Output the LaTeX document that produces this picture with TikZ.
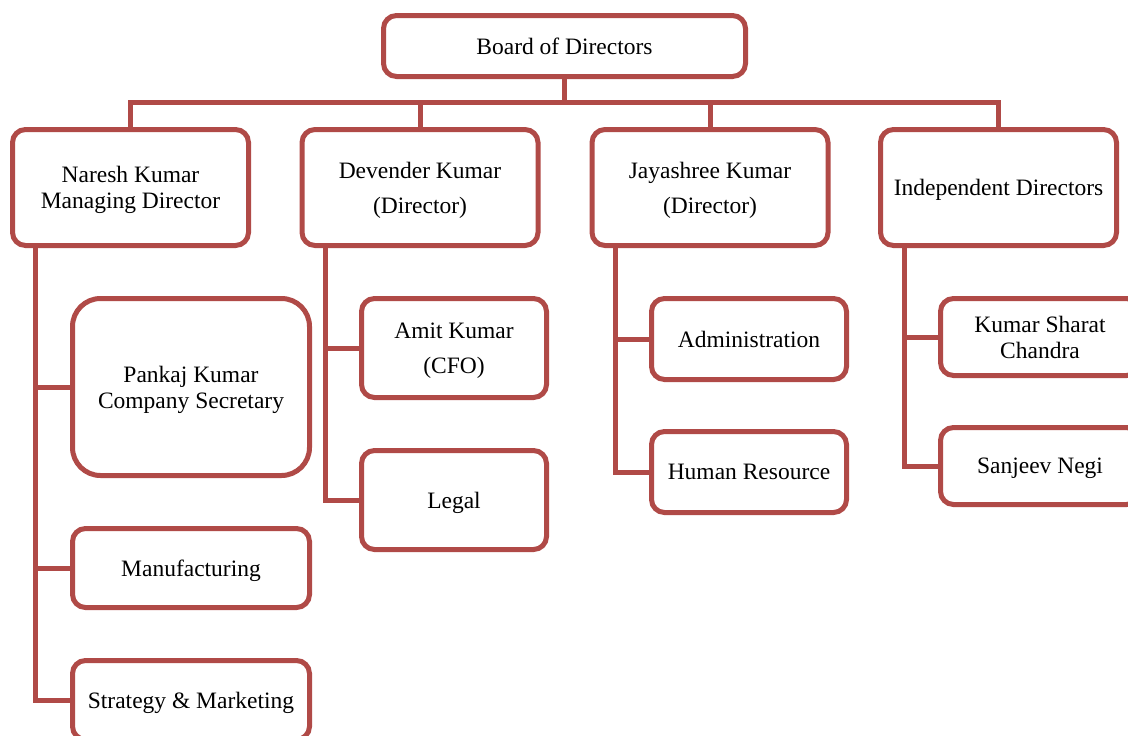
\documentclass[tikz,border=0pt]{standalone}
\usepackage{fontspec}
\setmainfont{Liberation Serif}
\definecolor{linered}{HTML}{B04A47}
\begin{document}
\begin{tikzpicture}[x=1pt,y=-1pt,
  box/.style={draw=linered,line width=5pt,rounded corners=13pt,fill=white,
    inner sep=0pt,align=center,text=black,text depth=0pt,
    font=\fontsize{23.5}{26}\selectfont},
  conn/.style={draw=linered,line width=5pt,line join=miter}]
\useasboundingbox (0,0) rectangle (1128,736);
\clip (0,0) rectangle (1128,736);
\coordinate (busy) at (0,102);
\coordinate (nv) at (35,247);
\coordinate (dv) at (325,247);
\coordinate (jv) at (615,247);
\coordinate (iv) at (904,247);
\node[box,minimum width=362pt,minimum height=61pt] (board) at (564.5,46) {Board of Directors};
\node[box,minimum width=236pt,minimum height=116pt] (naresh) at (130.5,187.5) {Naresh Kumar\\Managing Director};
\node[box,minimum width=236pt,minimum height=116pt] (dev) at (420,187.5) {Devender Kumar\\[9pt](Director)};
\node[box,minimum width=236pt,minimum height=116pt] (jay) at (710,187.5) {Jayashree Kumar\\[9pt](Director)};
\node[box,minimum width=236pt,minimum height=116pt] (indep) at (998.5,187.5) {Independent Directors};
\node[box,rounded corners=28pt,minimum width=237pt,minimum height=177pt] (pankaj) at (191,387) {Pankaj Kumar\\Company Secretary};
\node[box,minimum width=237pt,minimum height=79pt] (manu) at (191,568) {Manufacturing};
\node[box,minimum width=237pt,minimum height=79pt] (strat) at (191,700) {Strategy \& Marketing};
\node[box,minimum width=185pt,minimum height=99pt] (amit) at (454,348) {Amit Kumar\\[9pt](CFO)};
\node[box,minimum width=185pt,minimum height=99pt] (legal) at (454,500) {Legal};
\node[box,minimum width=195pt,minimum height=81pt] (admin) at (749,339) {Administration};
\node[box,minimum width=195pt,minimum height=81pt] (hr) at (749,472) {Human Resource};
\node[box,minimum width=199pt,minimum height=77pt] (kumar) at (1040,337) {Kumar Sharat\\Chandra};
\node[box,minimum width=199pt,minimum height=77pt] (sanjeev) at (1040,466) {Sanjeev Negi};
% top bus
\draw[conn] (board.south) -- (board.south |- busy);
\draw[conn] (naresh.north) -- (naresh.north |- busy) -- (indep.north |- busy) -- (indep.north);
\draw[conn] (dev.north) -- (dev.north |- busy);
\draw[conn] (jay.north) -- (jay.north |- busy);
% Naresh branch
\draw[conn] (nv) |- (strat.west);
\draw[conn] (nv |- pankaj.west) -- (pankaj.west);
\draw[conn] (nv |- manu.west) -- (manu.west);
% Devender branch
\draw[conn] (dv) |- (legal.west);
\draw[conn] (dv |- amit.west) -- (amit.west);
% Jayashree branch
\draw[conn] (jv) |- (hr.west);
\draw[conn] (jv |- admin.west) -- (admin.west);
% Independent branch
\draw[conn] (iv) |- (sanjeev.west);
\draw[conn] (iv |- kumar.west) -- (kumar.west);
\end{tikzpicture}
\end{document}
